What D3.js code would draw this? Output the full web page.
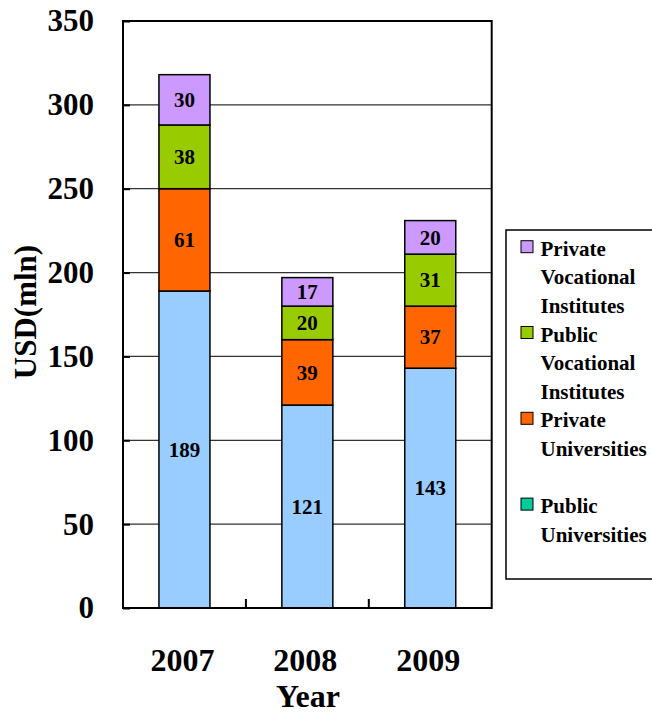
<!DOCTYPE html>
<html>
<head>
<meta charset="utf-8">
<script src="https://cdn.jsdelivr.net/npm/d3@7"></script>
<style>
  html, body { margin: 0; padding: 0; background: #fff; }
  svg text { font-family: 'Liberation Serif', 'DejaVu Serif', serif !important; font-weight: 700; }
</style>
</head>
<body>
<svg id="chart" width="652" height="713"></svg>
<script>
// Education funding by institution type, USD millions
const years = ["2007", "2008", "2009"];
const publicUniversities = [189, 121, 143];
const privateUniversities = [61, 39, 37];
const publicVocational = [38, 20, 31];
const privateVocational = [30, 17, 20];
const yTicks = [0, 50, 100, 150, 200, 250, 300, 350];

// Stack order bottom to top
const seriesKeys = ["pubU", "privU", "pubV", "privV"];
const seriesValues = {
  pubU: publicUniversities,
  privU: privateUniversities,
  pubV: publicVocational,
  privV: privateVocational
};
const barColors = { pubU: "#99CCFF", privU: "#FF6600", pubV: "#99CC00", privV: "#CC99FF" };

// Legend lists the top of the stack first
const legendItems = [
  { lines: ["Private", "Vocational", "Institutes"], color: "#CC99FF" },
  { lines: ["Public", "Vocational", "Institutes"], color: "#99CC00" },
  { lines: ["Private", "Universities"], color: "#FF6600" },
  { lines: ["Public", "Universities"], color: "#00CC99" }
];

const table = years.map((y, i) => {
  const row = { year: y };
  seriesKeys.forEach(k => row[k] = seriesValues[k][i]);
  return row;
});
const stacked = d3.stack().keys(seriesKeys)(table);

const svg = d3.select("#chart");
const plot = { left: 123, right: 491.7, top: 21, bottom: 608 };

const x = d3.scaleBand().domain(years).range([plot.left, plot.right])
  .paddingInner(0.585).paddingOuter(0.2925);
const y = d3.scaleLinear().domain([0, 350]).range([plot.bottom, plot.top]);

// Horizontal gridlines
svg.append("g").selectAll("line")
  .data(yTicks.filter(t => t > 0 && t < 350))
  .join("line")
  .attr("x1", plot.left).attr("x2", plot.right)
  .attr("y1", d => y(d)).attr("y2", d => y(d))
  .attr("stroke", "#333").attr("stroke-width", 1.2);

// Stacked bars
const layers = svg.append("g").selectAll("g")
  .data(stacked).join("g")
  .attr("fill", d => barColors[d.key]);

layers.selectAll("rect")
  .data(d => d)
  .join("rect")
  .attr("x", d => x(d.data.year))
  .attr("width", x.bandwidth())
  .attr("y", d => y(d[1]))
  .attr("height", d => y(d[0]) - y(d[1]))
  .attr("stroke", "#000").attr("stroke-width", 1.5);

// Segment value labels
layers.selectAll("text")
  .data(d => d.map(v => ({ v, key: d.key })))
  .join("text")
  .attr("x", d => x(d.v.data.year) + x.bandwidth() / 2)
  .attr("y", d => (y(d.v[0]) + y(d.v[1])) / 2)
  .attr("dy", "0.35em")
  .attr("text-anchor", "middle")
  .attr("fill", "#000")
  .attr("font-size", 21)
  .text(d => d.v.data[d.key]);

// Plot frame
svg.append("rect")
  .attr("x", plot.left).attr("y", plot.top)
  .attr("width", plot.right - plot.left).attr("height", plot.bottom - plot.top)
  .attr("fill", "none").attr("stroke", "#000").attr("stroke-width", 2);

// Y axis: inward ticks and labels
const yAxis = d3.axisLeft(y).tickValues(yTicks).tickSizeInner(-7).tickSizeOuter(0).tickPadding(29);
const yg = svg.append("g").attr("transform", `translate(${plot.left},0)`).call(yAxis);
yg.select(".domain").remove();
yg.selectAll(".tick line").attr("stroke", "#000").attr("stroke-width", 2);
yg.selectAll(".tick text")
  .attr("font-size", 31).attr("fill", "#000");

// X axis: category divider ticks pointing up from the baseline
const step = x.step();
const dividers = d3.range(1, years.length).map(i => plot.left + i * step);
svg.append("g").selectAll("line")
  .data(dividers).join("line")
  .attr("x1", d => d).attr("x2", d => d)
  .attr("y1", plot.bottom).attr("y2", plot.bottom - 9)
  .attr("stroke", "#000").attr("stroke-width", 2);

svg.append("g").selectAll("text")
  .data(years).join("text")
  .attr("x", d => x(d) + x.bandwidth() / 2 - 2)
  .attr("y", 671)
  .attr("text-anchor", "middle")
  .attr("font-size", 32)
  .text(d => d);

// Axis titles
svg.append("text")
  .attr("x", 308).attr("y", 707)
  .attr("text-anchor", "middle").attr("font-size", 32)
  .text("Year");

svg.append("text")
  .attr("transform", "translate(36,312) rotate(-90)")
  .attr("text-anchor", "middle").attr("font-size", 31)
  .text("USD(mln)");

// Legend
const legend = svg.append("g");
legend.append("rect")
  .attr("x", 506).attr("y", 230).attr("width", 160).attr("height", 349)
  .attr("fill", "#fff").attr("stroke", "#000").attr("stroke-width", 1.5);

const lineH = 28.6;
const itemStep = lineH * 3;
legendItems.forEach((item, i) => {
  const base = 255.7 + i * itemStep;
  legend.append("rect")
    .attr("x", 521).attr("y", base - 15)
    .attr("width", 12).attr("height", 12)
    .attr("fill", item.color).attr("stroke", "#000").attr("stroke-width", 1);
  item.lines.forEach((t, j) => {
    legend.append("text")
      .attr("x", 540.5).attr("y", base + j * lineH)
      .attr("font-size", 21)
      .text(t);
  });
});
</script>
</body>
</html>
